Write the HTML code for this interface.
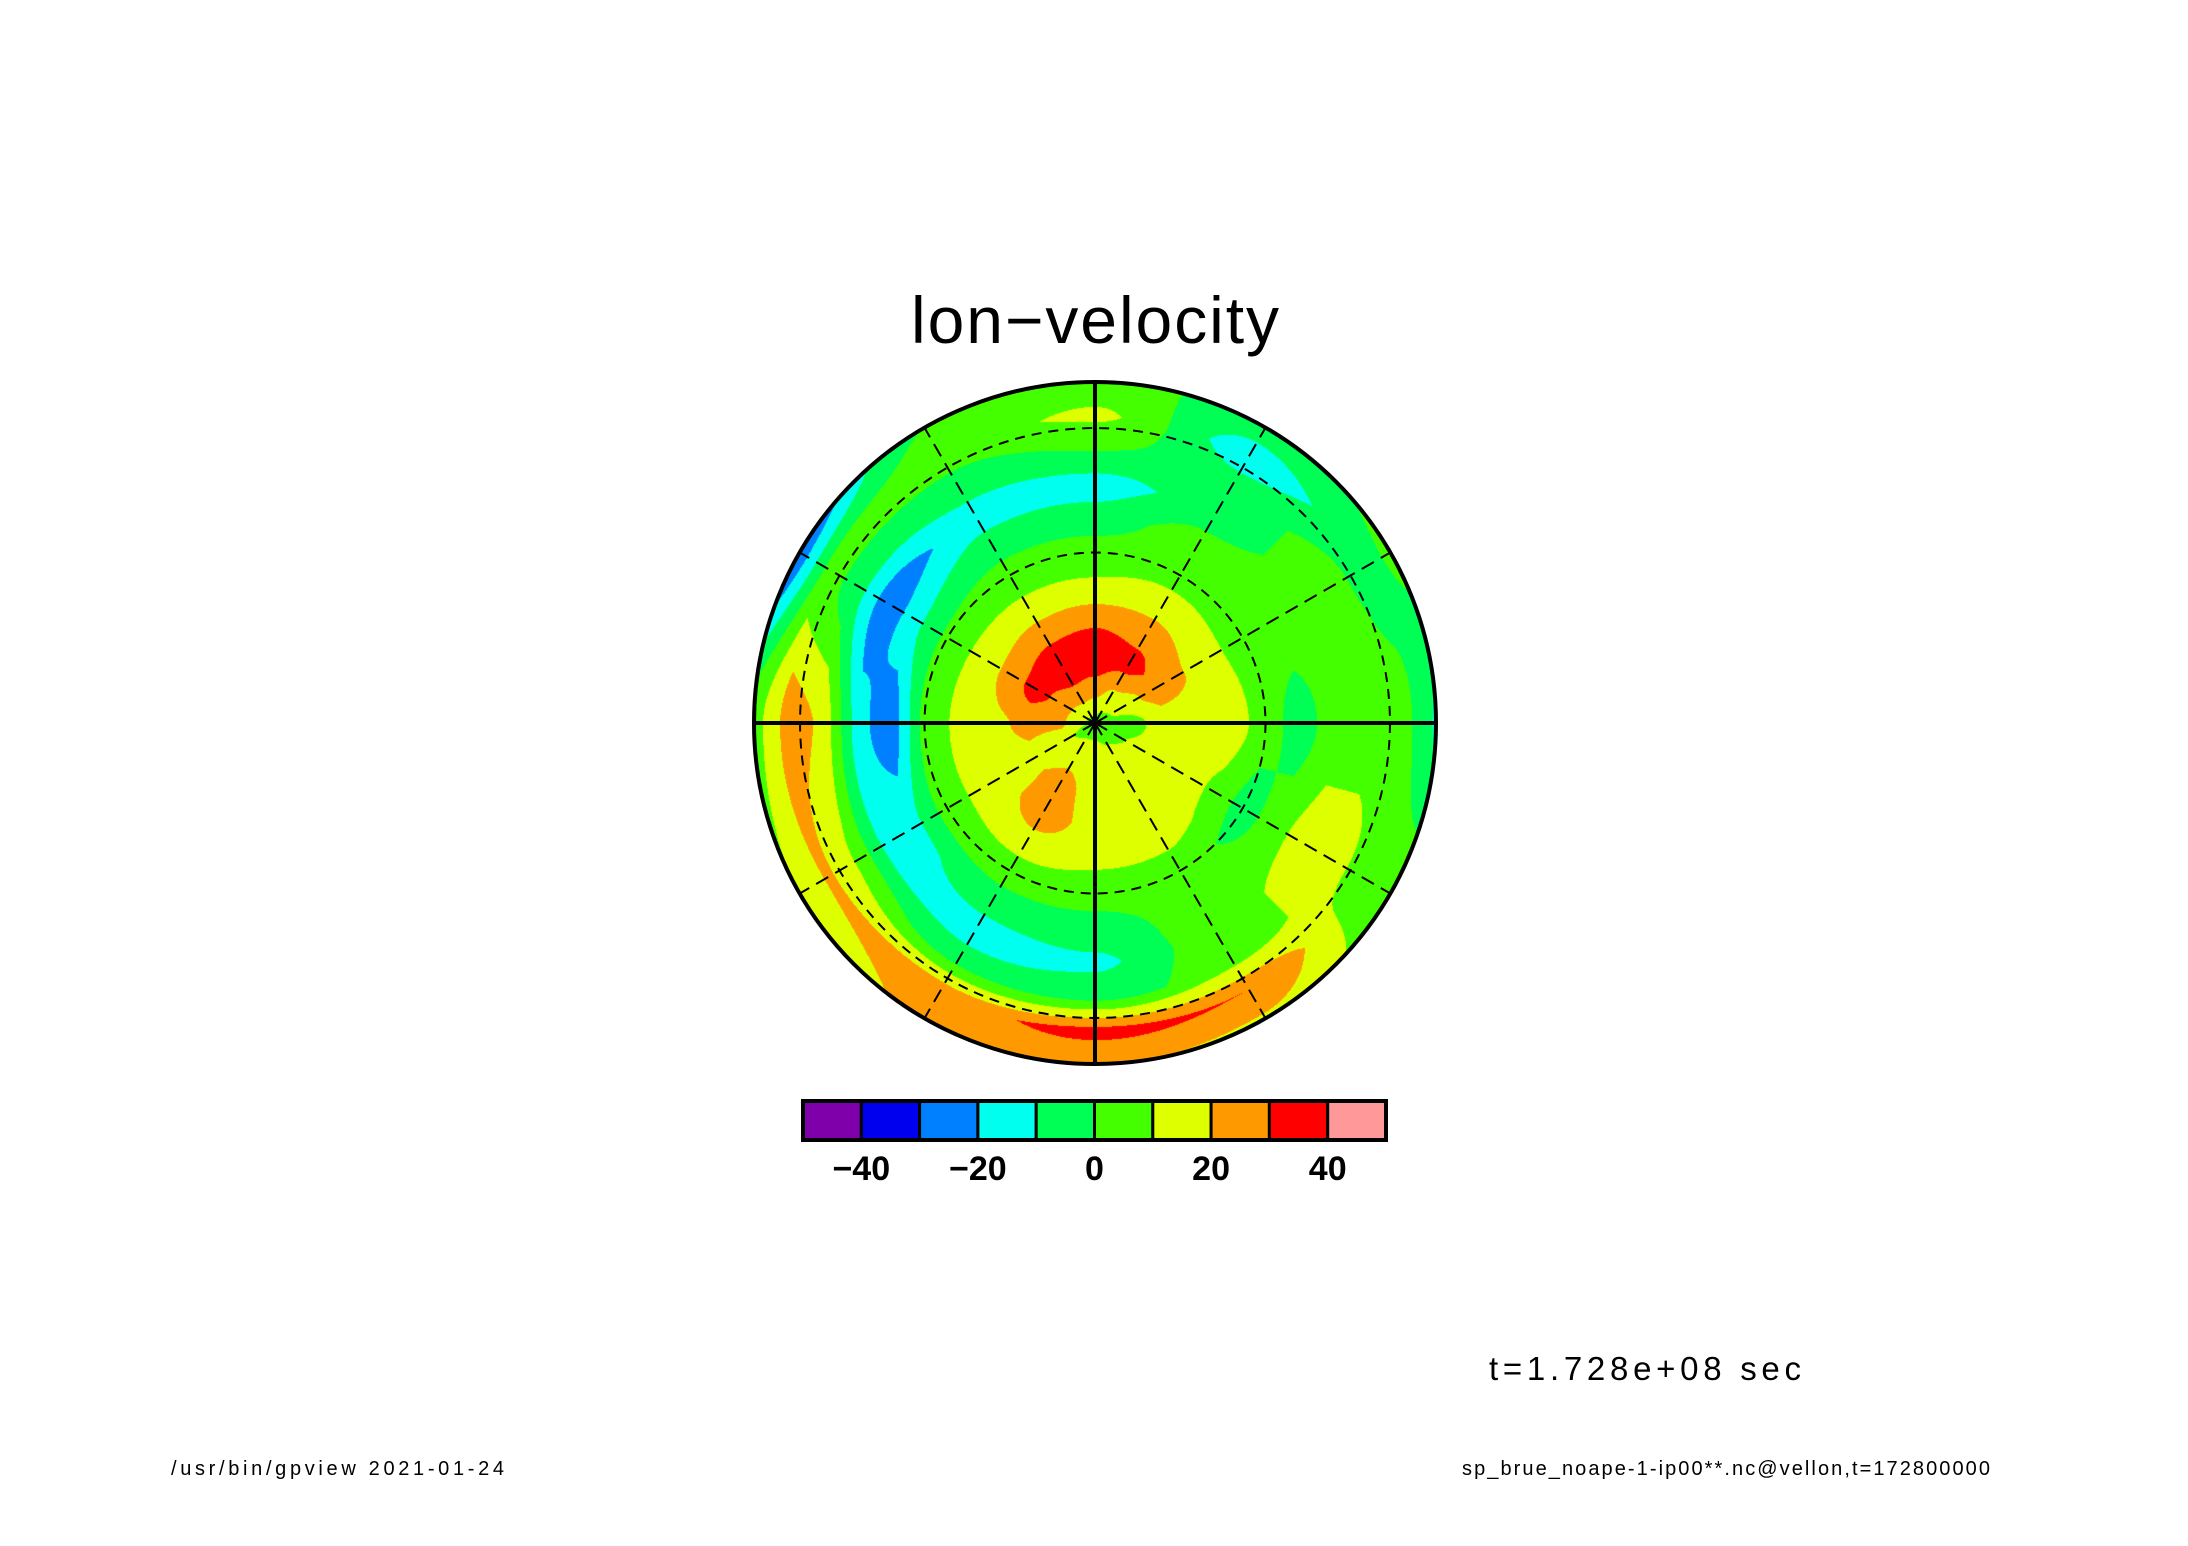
<!DOCTYPE html>
<html><head><meta charset="utf-8"><style>
html,body{margin:0;padding:0;background:#fff;}
#wrap{position:relative;width:2188px;height:1546px;overflow:hidden;}
canvas,svg{position:absolute;left:0;top:0;}
</style></head><body>
<div id="wrap">
<canvas id="cv" width="2188" height="1546"></canvas>
<svg id="sv" width="2188" height="1546" xmlns="http://www.w3.org/2000/svg"></svg>
</div>
<script>
// Data: field values on polar grid (angles from east, counter-clockwise; radii fraction)
const angles = [0,30,60,90,120,150,180,210,240,270,300,330];
const radii = [0,0.1,0.2,0.3,0.4,0.5,0.6,0.7,0.8,0.9,1.0];
const fieldA0   = [5, 5,15,15,15, 5,-5, 5, 5, 5,-12];
const fieldA30  = [5,15,25,20,12, 5, 5, 5, 5,-5, 2];
const fieldA60  = [5,18,35,25,15, 5, 5,-5,-5,-15,-5];
const fieldA90  = [5,25,38,28,12, 5,-5,-15, 0,12, 5];
const fieldA120 = [5,27,38,26,12, 5,-5,-15,-5, 5, 0];
const fieldA150 = [5,24,35,22,12, 3,-12,-28,-5, 5,-28];
const fieldA180 = [5,22,22,18,12, 5,-28,-15,18,25, 5];
const fieldA210 = [5,12,18,15,12, 5,-12,-15, 8,22,10];
const fieldA240 = [5,15,24,27,15, 5,-5,-15,-5,26,22];
const fieldA270 = [5,15,15,15,12, 5,-5,-12,-5,34,20];
const fieldA300 = [5,12,15,15,12, 5, 5, 5, 5,30,18];
const fieldA330 = [5,10,15,15, 8,-5, 5,15,15, 5, 5];
const levels = [-50,-40,-30,-20,-10,0,10,20,30,40,50];
const colors = ["#7f00aa","#0000ee","#0080ff","#00ffee","#00ff55","#44ff00","#ddff00","#ff9900","#ff0000","#ff9999"];
const tickValues = [-40,-20,0,20,40];
const title = "lon\u2212velocity";

const field = [fieldA0,fieldA30,fieldA60,fieldA90,fieldA120,fieldA150,fieldA180,fieldA210,fieldA240,fieldA270,fieldA300,fieldA330];
const CX=1095, CY=723, R=341;

function hexRGB(h){return [parseInt(h.substr(1,2),16),parseInt(h.substr(3,2),16),parseInt(h.substr(5,2),16)];}
const rgb = colors.map(hexRGB);
function binIdx(v){for(let i=0;i<colors.length;i++){if(v<levels[i+1])return i;}return colors.length-1;}

function sample(rf, ang){
  const n=angles.length;
  let a=((ang%360)+360)%360;
  let ai=a/30, i0=Math.floor(ai)%n, i1=(i0+1)%n, ta=ai-Math.floor(ai);
  let ri=Math.min(rf*10, 9.9999), j0=Math.floor(ri), j1=j0+1, tr=ri-j0;
  const s=t=>t*t*(3-2*t);
  ta=s(ta);
  const v0=field[i0][j0]*(1-tr)+field[i0][j1]*tr;
  const v1=field[i1][j0]*(1-tr)+field[i1][j1]*tr;
  return v0*(1-ta)+v1*ta;
}

const cv=document.getElementById('cv'), ctx=cv.getContext('2d');
const img=ctx.createImageData(2*R+2,2*R+2);
for(let y=0;y<2*R+2;y++){for(let x=0;x<2*R+2;x++){
  const dx=x-R, dy=R-y, d=Math.sqrt(dx*dx+dy*dy);
  const k=(y*(2*R+2)+x)*4;
  if(d>R){img.data[k+3]=0;continue;}
  const ang=Math.atan2(dy,dx)*180/Math.PI;
  const c=rgb[binIdx(sample(d/R,ang))];
  img.data[k]=c[0];img.data[k+1]=c[1];img.data[k+2]=c[2];img.data[k+3]=255;
}}
ctx.putImageData(img,CX-R,CY-R);

const NS="http://www.w3.org/2000/svg", sv=document.getElementById('sv');
function mk(tag,attrs,parent){const e=document.createElementNS(NS,tag);for(const k in attrs)e.setAttribute(k,attrs[k]);(parent||sv).appendChild(e);return e;}

[0.5,0.865].forEach(f=>{
  const c=mk('circle',{cx:CX,cy:CY,r:R*f,fill:'none',stroke:'#000','stroke-width':2,'stroke-dasharray':'10,7'});
  
  
});
for(let a=0;a<360;a+=30){
  if(a%90===0) continue;
  const r=a*Math.PI/180;
  const l=mk('line',{x1:CX,y1:CY,x2:CX+R*Math.cos(r),y2:CY-R*Math.sin(r),stroke:'#000','stroke-width':2,'stroke-dasharray':'14,8'});
  
  
}
const h=mk('line',{x1:CX-R,y1:CY,x2:CX+R,y2:CY,stroke:'#000','stroke-width':4});


const v=mk('line',{x1:CX,y1:CY-R,x2:CX,y2:CY+R,stroke:'#000','stroke-width':4});


const ring=mk('circle',{cx:CX,cy:CY,r:R,fill:'none',stroke:'#000','stroke-width':4});



const t=mk('text',{x:CX,y:343,'text-anchor':'middle','font-family':'Liberation Sans, sans-serif','font-size':66,fill:'#000','textLength':368,'lengthAdjust':'spacing'});
t.textContent=title;



const CB_X=803, CB_W=583, CB_Y=1101, CB_H=39;
const cw=CB_W/colors.length;
function cbX(val){return CB_X+(val-levels[0])/(levels[levels.length-1]-levels[0])*CB_W;}
colors.forEach((c,i)=>{
  const r=mk('rect',{x:cbX(levels[i]),y:CB_Y,width:cw,height:CB_H,fill:c,stroke:'#000','stroke-width':3});
  
  
});
const ob=mk('rect',{x:CB_X,y:CB_Y,width:CB_W,height:CB_H,fill:'none',stroke:'#000','stroke-width':4});


tickValues.forEach(tv=>{
  const tx=mk('text',{x:cbX(tv),y:1180,'text-anchor':'middle','font-family':'Liberation Sans, sans-serif','font-size':34,'font-weight':'bold',fill:'#000'});
  tx.textContent=(tv<0?'\u2212'+Math.abs(tv):String(tv));
  
  
});

const tl=mk('text',{x:1489,y:1380,'font-family':'Liberation Sans, sans-serif','font-size':33,fill:'#000','textLength':312});
tl.textContent="t=1.728e+08 sec";


const f1=mk('text',{x:171,y:1475,'font-family':'Liberation Sans, sans-serif','font-size':20,fill:'#000','textLength':333});
f1.textContent="/usr/bin/gpview  2021-01-24";


const f2=mk('text',{x:1462,y:1475,'font-family':'Liberation Sans, sans-serif','font-size':20,fill:'#000','textLength':528});
f2.textContent="sp_brue_noape-1-ip00**.nc@vellon,t=172800000";


</script>
</body></html>
